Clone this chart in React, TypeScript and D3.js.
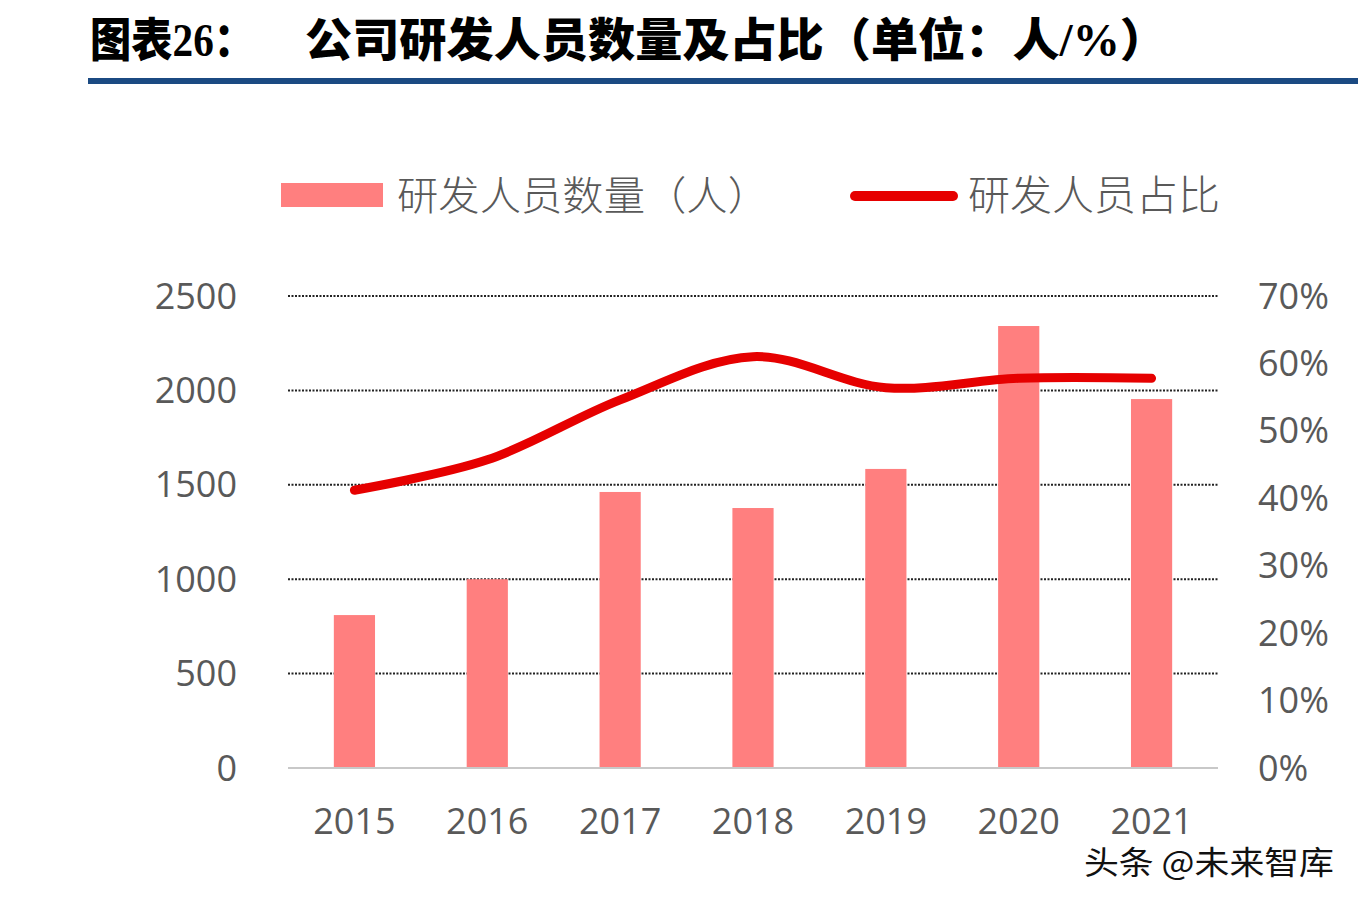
import React from "react";
import * as d3 from "d3";

const years = ["2015", "2016", "2017", "2018", "2019", "2020", "2021"];
const staffCount = [810, 1000, 1462, 1377, 1584, 2341, 1954];
const staffRatio = [41.2, 45.7, 54.6, 61.0, 56.4, 57.8, 57.8];
const leftTicks = [0, 500, 1000, 1500, 2000, 2500];
const rightTicks = [0, 10, 20, 30, 40, 50, 60, 70];

const W = 1358;
const H = 902;
const left = 288;
const right = 1218;
const top = 296;
const bottom = 768;

const barColor = "#ff7f7f";
const lineColor = "#e60000";
const textColor = "#595959";
const cjk = "'Noto Sans CJK SC', sans-serif";
const num = "'Open Sans', 'Noto Sans', sans-serif";

const App: React.FC = () => {
  const x = d3.scaleBand<string>().domain(years).range([left, right]).paddingInner(0.69).paddingOuter(0.345);
  const y = d3.scaleLinear().domain([0, 2500]).range([bottom, top]);
  const yr = d3.scaleLinear().domain([0, 70]).range([bottom, top]);

  const line = d3
    .line<number>()
    .x((_, i) => x(years[i])! + x.bandwidth() / 2)
    .y((d) => yr(d))
    .curve(d3.curveCatmullRom.alpha(0.5));

  return (
    <svg width={W} height={H} style={{ position: "absolute", left: 0, top: 0, background: "#fff" }}>
      {/* title */}
      <text x={90} y={56} fontSize={46} fontWeight={900} fill="#000" fontFamily={`'Liberation Serif', ${cjk}`} textLength={165} lengthAdjust="spacingAndGlyphs">
        图表26：
      </text>
      <text x={305} y={56} fontSize={46} fontWeight={900} fill="#000" fontFamily={`'Liberation Serif', ${cjk}`} textLength={862} lengthAdjust="spacingAndGlyphs">
        公司研发人员数量及占比（单位：人/%）
      </text>
      <rect x={88} y={78} width={W - 88} height={6} fill="#1b4a82" />

      {/* legend */}
      <rect x={281} y={183} width={102} height={24} fill={barColor} />
      <text x={397} y={210} fontSize={40} fill={textColor} fontFamily={cjk} fontWeight={300} textLength={372} lengthAdjust="spacingAndGlyphs">
        研发人员数量（人）
      </text>
      <line x1={855} x2={953} y1={196} y2={196} stroke={lineColor} strokeWidth={10} strokeLinecap="round" />
      <text x={968} y={210} fontSize={41} fill={textColor} fontFamily={cjk} fontWeight={300} textLength={252} lengthAdjust="spacingAndGlyphs">
        研发人员占比
      </text>

      {/* gridlines */}
      {leftTicks.filter((t) => t > 0).map((t) => (
        <line key={t} x1={left} x2={right} y1={y(t)} y2={y(t)} stroke="#222" strokeWidth={2} strokeDasharray="2,1.5" />
      ))}

      {/* bars */}
      {staffCount.map((v, i) => (
        <rect key={years[i]} x={x(years[i])} y={y(v)} width={x.bandwidth()} height={bottom - y(v)} fill={barColor} />
      ))}

      <line x1={left} x2={right} y1={bottom} y2={bottom} stroke="#c8c8c8" strokeWidth={2} />

      {/* line */}
      <path d={line(staffRatio) || ""} fill="none" stroke={lineColor} strokeWidth={9} strokeLinecap="round" />

      {/* left axis */}
      {leftTicks.map((t) => (
        <text key={t} x={237} y={y(t)} dy="0.35em" textAnchor="end" fontSize={36} fill={textColor} fontFamily={num}>
          {t}
        </text>
      ))}

      {/* right axis */}
      {rightTicks.map((t) => (
        <text key={t} x={1258} y={yr(t)} dy="0.35em" fontSize={36} fill={textColor} fontFamily={num}>
          {t}%
        </text>
      ))}

      {/* x axis */}
      {years.map((yv) => (
        <text key={yv} x={x(yv)! + x.bandwidth() / 2} y={821} dy="0.35em" textAnchor="middle" fontSize={36} fill={textColor} fontFamily={num}>
          {yv}
        </text>
      ))}

      {/* watermark */}
      <text x={1084} y={874} fontSize={32} fill="#111" fontFamily={cjk} textLength={250} lengthAdjust="spacingAndGlyphs">
        头条 @未来智库
      </text>
    </svg>
  );
};

export default App;
